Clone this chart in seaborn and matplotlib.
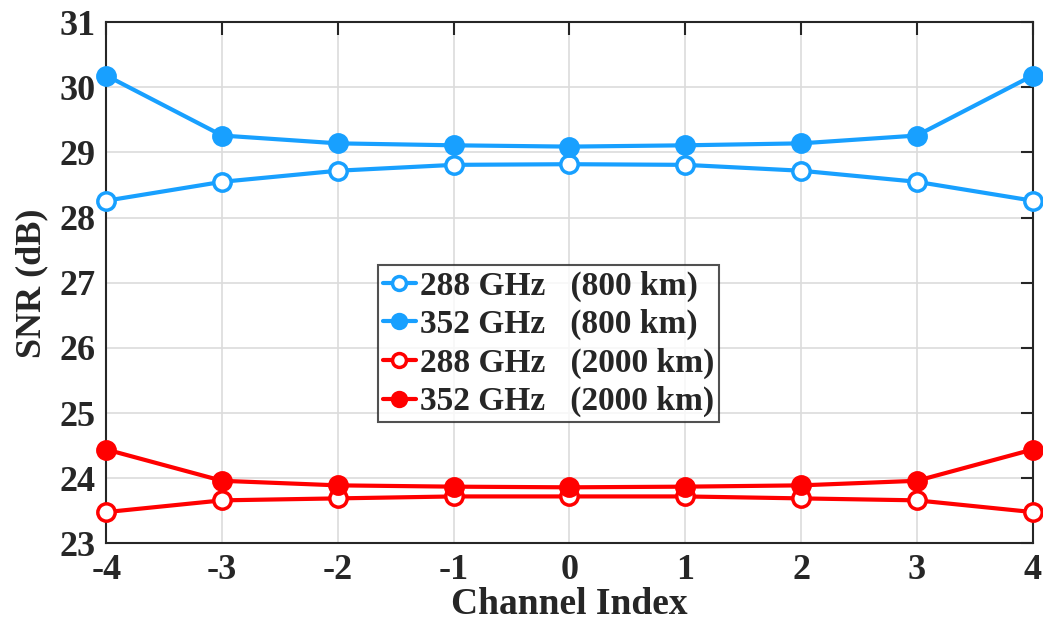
import numpy as np
import pandas as pd
import matplotlib
matplotlib.use('Agg')
import matplotlib.pyplot as plt
import seaborn as sns

# ========== DADOS ==========
canais = [-4, -3, -2, -1, 0, 1, 2, 3, 4]
snr_288_800 = [28.26, 28.55, 28.72, 28.81, 28.82, 28.81, 28.72, 28.55, 28.26]
snr_352_800 = [30.18, 29.26, 29.14, 29.11, 29.09, 29.11, 29.14, 29.26, 30.18]
snr_288_2000 = [23.48, 23.66, 23.69, 23.72, 23.72, 23.72, 23.69, 23.66, 23.48]
snr_352_2000 = [24.44, 23.96, 23.89, 23.87, 23.86, 23.87, 23.89, 23.96, 24.44]

series = [
    ('288 GHz   (800 km)', snr_288_800, '#18a0ff', False),
    ('352 GHz   (800 km)', snr_352_800, '#18a0ff', True),
    ('288 GHz   (2000 km)', snr_288_2000, '#ff0000', False),
    ('352 GHz   (2000 km)', snr_352_2000, '#ff0000', True),
]

# ========== ESTILO ==========
sns.set_style('white')
plt.rcParams['font.family'] = ['Liberation Serif', 'DejaVu Serif']
plt.rcParams['font.weight'] = 'bold'

fig, ax = plt.subplots(figsize=(10.43, 6.34), dpi=100)
fig.subplots_adjust(left=0.102, right=0.99, top=0.965, bottom=0.143)

for nome, valores, cor, cheio in series:
    df = pd.DataFrame({'canal': canais, 'snr': valores})
    sns.lineplot(data=df, x='canal', y='snr', ax=ax, color=cor, linewidth=3.0,
                 marker='o', markersize=12.5, markeredgewidth=2.5,
                 markeredgecolor=cor, markerfacecolor=cor if cheio else 'white',
                 label=nome, clip_on=False, zorder=3)

ax.set_xlim(-4, 4)
ax.set_ylim(23, 31)
ax.set_xticks(canais)
ax.set_yticks(range(23, 32))
ax.set_xticklabels([str(c) for c in canais])
ax.grid(True, color='#dcdcdc', linewidth=1.2)
ax.set_axisbelow(True)

for lado in ['top', 'bottom', 'left', 'right']:
    ax.spines[lado].set_visible(True)
    ax.spines[lado].set_color('#262626')
    ax.spines[lado].set_linewidth(1.5)

ax.tick_params(direction='in', length=9, width=1.5, top=True, right=True,
               labelsize=26, colors='#262626', pad=8)
for t in ax.get_xticklabels() + ax.get_yticklabels():
    t.set_fontweight('bold')
    t.set_color('#262626')

ax.set_xlabel('Channel Index', fontsize=27, fontweight='bold', color='#262626', labelpad=0)
ax.set_ylabel('SNR (dB)', fontsize=26, fontweight='bold', color='#262626', labelpad=8)

leg = ax.legend(loc='lower left', bbox_to_anchor=(0.293, 0.232), fontsize=24,
                frameon=True, fancybox=False, edgecolor='#262626',
                handlelength=1.0, handletextpad=0.12, borderpad=0.15,
                labelspacing=0.22, borderaxespad=0, markerscale=0.8)
leg.get_frame().set_linewidth(1.5)
for txt in leg.get_texts():
    txt.set_fontweight('bold')

plt.savefig('out.png', dpi=100, facecolor='white')
